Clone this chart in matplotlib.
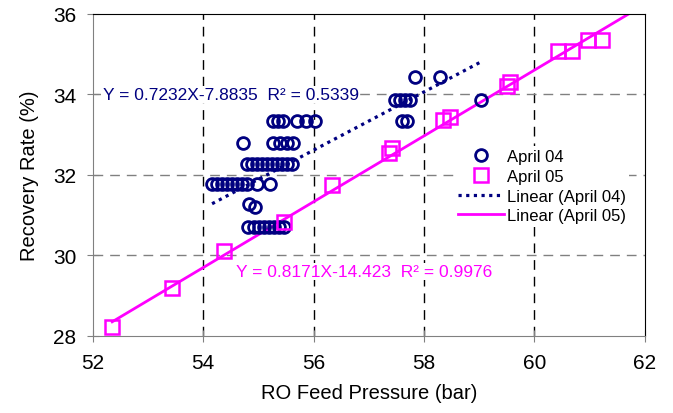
import matplotlib
matplotlib.use("Agg")
import matplotlib.pyplot as plt
from matplotlib.lines import Line2D

plt.rcParams['font.family'] = ['Liberation Sans', 'DejaVu Sans']

# April 04 (circles)
x_apr04 = [55.26, 55.35, 55.44, 55.70, 55.86, 56.02,
           54.72, 55.26, 55.39, 55.51, 55.62,
           54.79, 54.88, 54.97, 55.06, 55.15, 55.24, 55.33, 55.42, 55.51, 55.61,
           54.16, 54.25, 54.34, 54.43, 54.52, 54.61, 54.70, 54.79, 54.97, 55.21,
           54.83, 54.93,
           54.81, 54.92, 55.01, 55.10, 55.19, 55.28, 55.37, 55.46,
           57.83, 58.29, 57.47, 57.56, 57.65, 57.74, 59.03, 57.60, 57.70]
y_apr04 = [33.35, 33.35, 33.35, 33.35, 33.35, 33.35,
           32.80, 32.80, 32.80, 32.80, 32.80,
           32.27, 32.27, 32.27, 32.27, 32.27, 32.27, 32.27, 32.27, 32.27, 32.27,
           31.78, 31.78, 31.78, 31.78, 31.78, 31.78, 31.78, 31.78, 31.78, 31.78,
           31.28, 31.20,
           30.70, 30.70, 30.70, 30.70, 30.70, 30.70, 30.70, 30.70,
           34.43, 34.43, 33.87, 33.87, 33.87, 33.87, 33.87, 33.35, 33.35]

# April 05 (squares)
x_apr05 = [52.35, 53.43, 54.38, 55.47, 56.33, 57.37, 57.42, 58.34, 58.47,
           59.50, 59.55, 60.42, 60.68, 60.97, 61.22]
y_apr05 = [28.22, 29.20, 30.10, 30.82, 31.75, 32.55, 32.68, 33.37, 33.45,
           34.22, 34.30, 35.08, 35.08, 35.35, 35.35]

# trendline coefficients (slope, intercept)
fit_apr04 = (0.7232, -7.8835)
fit_apr05 = (0.8171, -14.423)

navy = '#000080'
magenta = '#FF00FF'

fig = plt.figure(figsize=(6.73, 4.14), dpi=100)
ax = fig.add_axes([0.138, 0.186, 0.82, 0.778])

# grid
for gx in [54, 56, 58, 60]:
    ax.axvline(gx, color='black', lw=1, ls=(0, (7, 5)), zorder=0)
for gy in [30, 32, 34]:
    ax.axhline(gy, color='#808080', lw=1, ls=(0, (7, 5)), zorder=0)

ax.plot(x_apr04, y_apr04, 'o', ms=8.5, mfc='none', mec=navy, mew=2, zorder=3)
ax.plot(x_apr05, y_apr05, 's', ms=9.5, mfc='none', mec=magenta, mew=1.8, zorder=3)

x1 = [min(x_apr04), max(x_apr04)]
ax.plot(x1, [fit_apr04[0] * v + fit_apr04[1] for v in x1], color=navy,
        lw=2.3, ls=(0, (1, 1.4)), zorder=2)
x2 = [min(x_apr05), 62.5]
ax.plot(x2, [fit_apr05[0] * v + fit_apr05[1] for v in x2], color=magenta,
        lw=2, zorder=2)

box = dict(facecolor='white', edgecolor='none', pad=1)
ax.text(52.18, 34.0, 'Y = 0.7232X-7.8835  R\u00b2 = 0.5339', color=navy,
        fontsize=12.5, va='center', ha='left', bbox=box, zorder=1)
ax.text(54.6, 29.6, 'Y = 0.8171X-14.423  R\u00b2 = 0.9976', color=magenta,
        fontsize=12.5, va='center', ha='left', bbox=box, zorder=1)

ax.set_xlim(52, 62)
ax.set_ylim(28, 36)
ax.set_xticks([52, 54, 56, 58, 60, 62])
ax.set_yticks([28, 30, 32, 34, 36])
ax.tick_params(direction='inout', length=8, color='#808080', labelsize=15, pad=8)
ax.spines['left'].set_color('#808080')
ax.spines['bottom'].set_color('#808080')
ax.spines['top'].set_color('black')
ax.spines['right'].set_color('black')

ax.set_xlabel('RO Feed Pressure (bar)', fontsize=14.5, labelpad=8)
ax.set_ylabel('Recovery Rate (%)', fontsize=14.5, labelpad=10)

handles = [
    Line2D([], [], marker='o', ls='none', ms=8.5, mfc='none', mec=navy, mew=2),
    Line2D([], [], marker='s', ls='none', ms=9.5, mfc='none', mec=magenta, mew=1.8),
    Line2D([], [], color=navy, lw=2.3, ls=(0, (1, 1.4))),
    Line2D([], [], color=magenta, lw=2),
]
labels = ['April 04', 'April 05', 'Linear (April 04)', 'Linear (April 05)']
leg = ax.legend(handles, labels, loc='upper left', bbox_to_anchor=(0.655, 0.59),
                frameon=True, fontsize=12, handlelength=2.8, labelspacing=0.28,
                handletextpad=0.15, borderpad=0.2, borderaxespad=0)
leg.get_frame().set_facecolor('white')
leg.get_frame().set_edgecolor('none')
leg.get_frame().set_alpha(1)

fig.savefig('out.png', dpi=100)
